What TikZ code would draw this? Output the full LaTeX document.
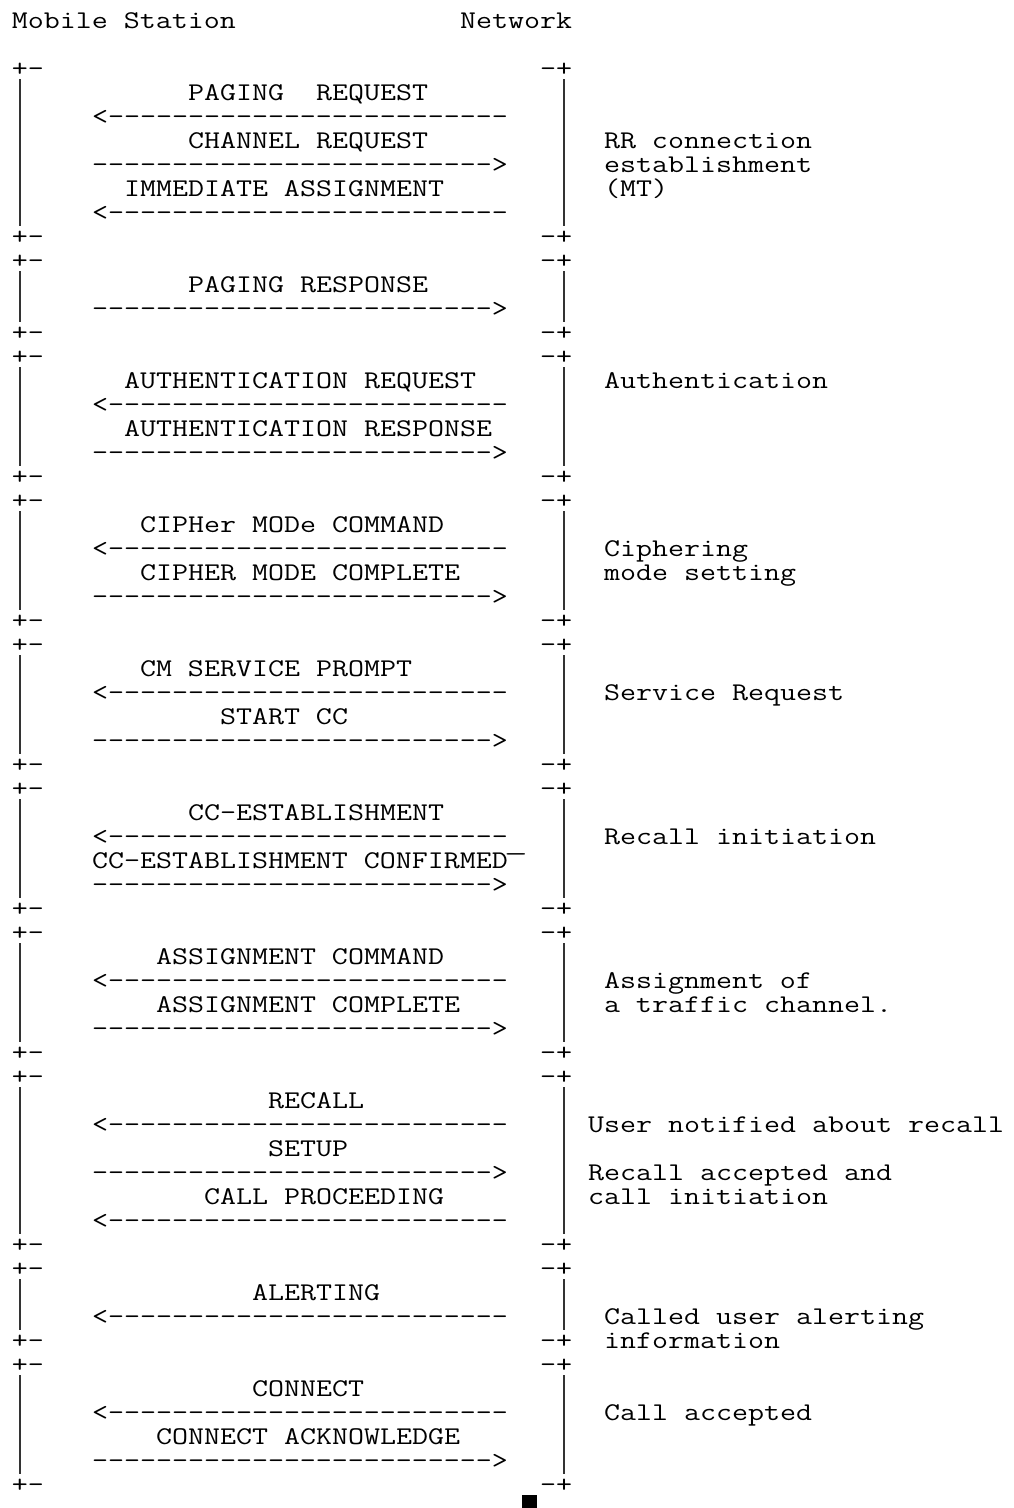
\documentclass[tikz,border=0pt]{standalone}
\usepackage{graphicx}
\newlength\chw
\newcommand\vs[1]{\scalebox{1}[0.82]{#1}}
\newcommand\dashrun{\foreach \i in {1,...,25}{-\kern0pt}}
\newcommand\larr{<\kern0pt\dashrun}
\newcommand\rarr{\dashrun>}
\newcommand\widemacron{\makebox[16pt][c]{\scalebox{1.6}[1]{¯}}}
\newcommand\tx[4]{\node[txt] (#1) at (#2,#3) {\vs{#4}};}
\begin{document}
\settowidth\chw{\ttfamily\fontsize{30}{30}\selectfont M}
\ifdim\chw<1pt \setlength\chw{15.75pt}\fi
\pgfmathsetmacro\fsz{30*16/\chw}
\begin{tikzpicture}[x=16pt,y=-24pt]
\tikzset{
  txt/.style={anchor=base west,inner sep=0pt,outer sep=0pt,
    font=\ttfamily\fontsize{\fsz pt}{\fsz pt}\selectfont},
  bar/.style={line width=1.2pt,draw=black!80}
}
\useasboundingbox (0pt,0pt) rectangle (1013pt,-1508pt);
\begin{scope}[shift={(12pt,-28pt)}]
% header
\tx{ms}{0}{0}{Mobile Station}
\tx{nw}{28}{0}{Network}
% block frames
\foreach \ta/\tb [count=\nn] in {2/9,10/13,14/19,20/25,26/31,32/37,38/43,44/51,52/55,56/61}{
  \node[txt] (pl\nn) at (0,\ta) {\vs{+-}};
  \node[txt] (pr\nn) at (33,\ta) {\vs{-+}};
  \node[txt] (ql\nn) at (0,\tb) {\vs{+-}};
  \node[txt] (qr\nn) at (33,\tb) {\vs{-+}};
  \coordinate (alt\nn) at (0.5,{\ta+0.125});
  \coordinate (alb\nn) at (0.5,{\tb-0.75});
  \coordinate (art\nn) at (34.5,{\ta+0.125});
  \coordinate (arb\nn) at (34.5,{\tb-0.75});
  \draw[bar] (alt\nn) -- (alb\nn);
  \draw[bar] (art\nn) -- (arb\nn);
}
% block 1
\tx{m1}{11}{3}{PAGING\ \ REQUEST}
\tx{a1}{5}{4}{\larr}
\tx{m2}{11}{5}{CHANNEL REQUEST}
\tx{a2}{5}{6}{\rarr}
\tx{m3}{7}{7}{IMMEDIATE ASSIGNMENT}
\tx{a3}{5}{8}{\larr}
\tx{c1a}{37}{5}{RR connection}
\tx{c1b}{37}{6}{establishment}
\tx{c1c}{37}{7}{(MT)}
% block 2
\tx{m4}{11}{11}{PAGING RESPONSE}
\tx{a4}{5}{12}{\rarr}
% block 3
\tx{m5}{7}{15}{AUTHENTICATION REQUEST}
\tx{a5}{5}{16}{\larr}
\tx{m6}{7}{17}{AUTHENTICATION RESPONSE}
\tx{a6}{5}{18}{\rarr}
\tx{c3}{37}{15}{Authentication}
% block 4
\tx{m7}{8}{21}{CIPHer MODe COMMAND}
\tx{a7}{5}{22}{\larr}
\tx{m8}{8}{23}{CIPHER MODE COMPLETE}
\tx{a8}{5}{24}{\rarr}
\tx{c4a}{37}{22}{Ciphering}
\tx{c4b}{37}{23}{mode setting}
% block 5
\tx{m9}{8}{27}{CM SERVICE PROMPT}
\tx{a9}{5}{28}{\larr}
\tx{m10}{13}{29}{START CC}
\tx{a10}{5}{30}{\rarr}
\tx{c5}{37}{28}{Service Request}
% block 6
\tx{m11}{11}{33}{CC-ESTABLISHMENT}
\tx{a11}{5}{34}{\larr}
\tx{m12}{5}{35}{CC-ESTABLISHMENT CONFIRMED\widemacron}
\tx{a12}{5}{36}{\rarr}
\tx{c6}{37}{34}{Recall initiation}
% block 7
\tx{m13}{9}{39}{ASSIGNMENT COMMAND}
\tx{a13}{5}{40}{\larr}
\tx{m14}{9}{41}{ASSIGNMENT COMPLETE}
\tx{a14}{5}{42}{\rarr}
\tx{c7a}{37}{40}{Assignment of}
\tx{c7b}{37}{41}{a traffic channel.}
% block 8
\tx{m15}{16}{45}{RECALL}
\tx{a15}{5}{46}{\larr}
\tx{m16}{16}{47}{SETUP}
\tx{a16}{5}{48}{\rarr}
\tx{m17}{12}{49}{CALL PROCEEDING}
\tx{a17}{5}{50}{\larr}
\tx{c8a}{36}{46}{User notified about recall}
\tx{c8b}{36}{48}{Recall accepted and}
\tx{c8c}{36}{49}{call initiation}
% block 9
\tx{m18}{15}{53}{ALERTING}
\tx{a18}{5}{54}{\larr}
\tx{c9a}{37}{54}{Called user alerting}
\tx{c9b}{37}{55}{information}
% block 10
\tx{m19}{15}{57}{CONNECT}
\tx{a19}{5}{58}{\larr}
\tx{m20}{9}{59}{CONNECT ACKNOWLEDGE}
\tx{a20}{5}{60}{\rarr}
\tx{c10}{37}{58}{Call accepted}
\end{scope}
\fill (521.7pt,-1495pt) rectangle (536.7pt,-1508pt);
\end{tikzpicture}
\end{document}
